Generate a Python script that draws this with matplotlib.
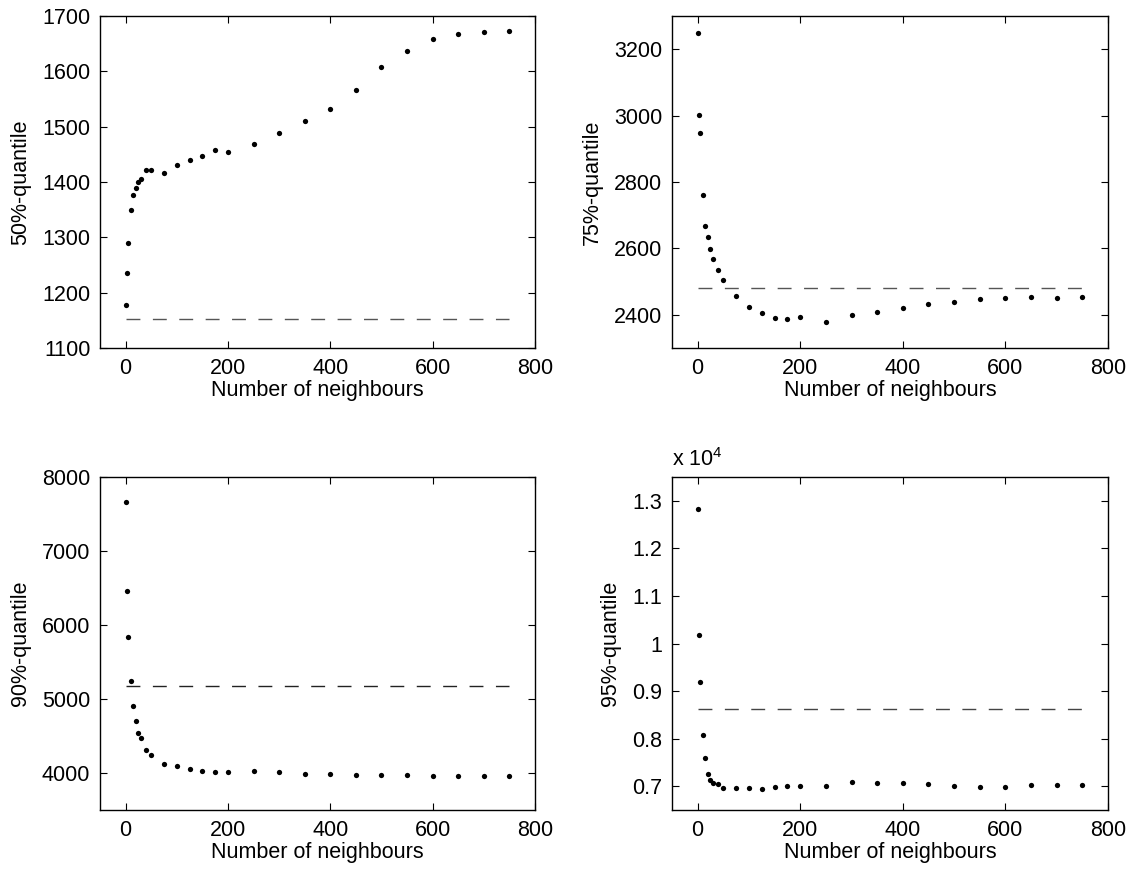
import matplotlib
matplotlib.use("Agg")
import matplotlib.pyplot as plt
import numpy as np

plt.rcParams['font.family'] = ['Liberation Sans', 'DejaVu Sans']
plt.rcParams['mathtext.fontset'] = 'custom'
plt.rcParams['mathtext.rm'] = 'Liberation Sans'
plt.rcParams['lines.scale_dashes'] = False

# number of neighbours
neighbours = [1, 3, 5, 10, 15, 20, 25, 30, 40, 50, 75, 100, 125, 150, 175, 200,
              250, 300, 350, 400, 450, 500, 550, 600, 650, 700, 750]

q50 = [1177, 1236, 1289, 1350, 1376, 1389, 1400, 1405, 1422, 1421, 1417, 1430,
       1440, 1447, 1457, 1455, 1468, 1489, 1510, 1532, 1566, 1607, 1636, 1658,
       1667, 1671, 1673]
q75 = [3248, 3002, 2948, 2762, 2668, 2634, 2598, 2568, 2536, 2505, 2456, 2422,
       2406, 2391, 2386, 2393, 2379, 2400, 2408, 2420, 2432, 2438, 2447, 2450,
       2455, 2452, 2455]
q90 = [7662, 6459, 5838, 5248, 4901, 4707, 4536, 4473, 4315, 4239, 4117, 4090,
       4050, 4032, 4018, 4018, 4023, 4009, 3990, 3980, 3975, 3975, 3970, 3965,
       3960, 3960, 3960]
q95 = [12824, 10176, 9197, 8070, 7600, 7254, 7127, 7063, 7042, 6965, 6965, 6965,
       6944, 6993, 7014, 7014, 7000, 7080, 7070, 7070, 7050, 7000, 6980, 6990,
       7020, 7030, 7030]

# reference level (dashed line) for each quantile
ref_levels = [1152, 2482, 5171, 8627]

labels = ['50%-quantile', '75%-quantile', '90%-quantile', '95%-quantile']
ylims = [(1100, 1700), (2300, 3300), (3500, 8000), (0.65, 1.35)]
yticks = [np.arange(1100, 1701, 100), np.arange(2400, 3201, 200),
          np.arange(4000, 8001, 1000), [0.7, 0.8, 0.9, 1, 1.1, 1.2, 1.3]]
ytick_labels = [None, None, None, ['0.7', '0.8', '0.9', '1', '1.1', '1.2', '1.3']]
scales = [1, 1, 1, 1e4]
dash_colors = ['#555555', '#555555', '#222222', '#444444']

fig = plt.figure(figsize=(11.31, 8.71), dpi=100)
W, H = 1131, 871
boxes = [(100, 16, 535, 348), (672, 16, 1108, 348),
         (100, 477, 535, 810), (672, 477, 1108, 810)]
fs = 15.5

series = [q50, q75, q90, q95]
for i, (vals, (x0, y0, x1, y1)) in enumerate(zip(series, boxes)):
    ax = fig.add_axes([x0 / W, (H - y1) / H, (x1 - x0) / W, (y1 - y0) / H])
    s = scales[i]
    ax.plot(neighbours, np.array(vals) / s, 'o', color='black', markersize=3.8,
            markeredgewidth=0)
    ax.plot([0, neighbours[-1]], [ref_levels[i] / s] * 2, color=dash_colors[i],
            linewidth=1.0, dashes=(10, 9))
    ax.set_xlim(-50, 800)
    ax.set_ylim(*ylims[i])
    ax.set_xticks([0, 200, 400, 600, 800])
    ax.set_yticks(yticks[i])
    if ytick_labels[i] is not None:
        ax.set_yticklabels(ytick_labels[i])
    ax.tick_params(direction='in', length=5, width=0.8, top=True, right=True,
                   labelsize=fs, pad=7)
    for sp in ax.spines.values():
        sp.set_linewidth(1.0)
    ax.set_xlabel('Number of neighbours', fontsize=fs, labelpad=1)
    ax.set_ylabel(labels[i], fontsize=fs, labelpad=8)
    if i == 3:
        ax.text(0, 1.018, r'x 10$^{4}$', transform=ax.transAxes, fontsize=fs,
                ha='left', va='bottom')

fig.savefig('out.png', dpi=100)
